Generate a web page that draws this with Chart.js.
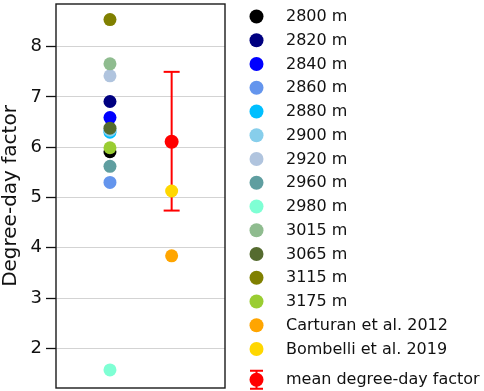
<!DOCTYPE html>
<html>
<head>
<meta charset="utf-8">
<script src="https://cdn.jsdelivr.net/npm/chart.js@4.4.1/dist/chart.umd.min.js"></script>
<style>
  html, body { margin: 0; padding: 0; background: #fff; }
  #wrap { width: 484px; height: 391px; }
</style>
</head>
<body>
<div id="wrap"><canvas id="ddfChart"></canvas></div>
<script>
Chart.defaults.font.family = 'DejaVu Sans';
Chart.defaults.color = '#111';

// values
var stationLabels = ['2800 m', '2820 m', '2840 m', '2860 m', '2880 m', '2900 m', '2920 m', '2960 m', '2980 m', '3015 m', '3065 m', '3115 m', '3175 m'];
var stationColors = ['#000000', '#000080', '#0000ff', '#6495ed', '#00bfff', '#87ceeb', '#b0c4de', '#5f9ea0', '#7fffd4', '#8fbc8f', '#556b2f', '#808000', '#9acd32'];
var stationValues = [5.91, 6.91, 6.59, 5.30, 6.30, 6.34, 7.42, 5.62, 1.57, 7.66, 6.38, 8.54, 5.99];
var studyLabels = ['Carturan et al. 2012', 'Bombelli et al. 2019'];
var studyColors = ['#ffa500', '#ffd700'];
var studyValues = [3.84, 5.13];
var meanLabel = 'mean degree-day factor';
var meanValues = [6.11];
var meanLow = [4.74];
var meanHigh = [7.50];
var yTicks = [2, 3, 4, 5, 6, 7, 8];
var groupPos = [0, 1]; // stations column, literature / mean column

var datasets = [];
function addDs(ds) {
    ds.order = 100 - datasets.length; // later datasets on top, like matplotlib
    datasets.push(ds);
    return datasets.length - 1;
}

var legendRows = [];
stationLabels.forEach(function (lab, i) {
    addDs({
        label: lab,
        data: [{ x: groupPos[0], y: stationValues[i] }],
        backgroundColor: stationColors[i],
        borderWidth: 0,
        pointRadius: 6.5,
    });
    legendRows.push({ text: lab, color: stationColors[i], err: false });
});

// error bar of the mean
addDs({
    label: 'mean range',
    data: [{ x: groupPos[1], y: meanLow[0] }, { x: groupPos[1], y: meanHigh[0] }],
    showLine: true,
    borderColor: '#ff0000',
    borderWidth: 2,
    pointStyle: 'line',
    pointRadius: 8,
    pointBorderColor: '#ff0000',
    pointBorderWidth: 2,
});
addDs({
    label: meanLabel,
    data: [{ x: groupPos[1], y: meanValues[0] }],
    backgroundColor: '#ff0000',
    borderWidth: 0,
    pointRadius: 7,
});

studyLabels.forEach(function (lab, i) {
    addDs({
        label: lab,
        data: [{ x: groupPos[1], y: studyValues[i] }],
        backgroundColor: studyColors[i],
        borderWidth: 0,
        pointRadius: 6.5,
    });
    legendRows.push({ text: lab, color: studyColors[i], err: false });
});
legendRows.push({ text: meanLabel, color: '#ff0000', err: true });

var frame = {
    id: 'frame',
    afterDraw: function (chart) {
        var a = chart.chartArea, ctx = chart.ctx;
        ctx.save();
        ctx.strokeStyle = '#1a1a1a';
        ctx.lineWidth = 1.4;
        ctx.strokeRect(a.left, a.top, a.right - a.left, a.bottom - a.top);
        ctx.restore();
    }
};

var sideLegend = {
    id: 'sideLegend',
    afterDraw: function (chart) {
        var ctx = chart.ctx;
        var mx = 256.5, tx = 286;
        ctx.save();
        ctx.font = '16px "DejaVu Sans"';
        ctx.textBaseline = 'middle';
        legendRows.forEach(function (row, i) {
            var y = 16.5 + i * 23.75 + (row.err ? 7 : 0);
            ctx.fillStyle = row.color;
            ctx.beginPath();
            ctx.arc(mx, y, 7, 0, Math.PI * 2);
            ctx.fill();
            if (row.err) {
                ctx.strokeStyle = row.color;
                ctx.lineWidth = 2;
                ctx.beginPath();
                ctx.moveTo(mx, y - 9); ctx.lineTo(mx, y + 9);
                ctx.moveTo(mx - 6.5, y - 9); ctx.lineTo(mx + 6.5, y - 9);
                ctx.moveTo(mx - 6.5, y + 9); ctx.lineTo(mx + 6.5, y + 9);
                ctx.stroke();
            }
            ctx.fillStyle = '#111';
            ctx.fillText(row.text, tx, y + 0.5);
        });
        ctx.restore();
    }
};

var ctx = document.getElementById('ddfChart');
var myChart = new Chart(ctx, {
    type: 'scatter',
    plugins: [frame, sideLegend],
    data: { datasets: datasets },
    options: {
        responsive: true,
        maintainAspectRatio: false,
        animation: false,
        layout: {
            autoPadding: false,
            padding: { left: 0, right: 259, top: 4, bottom: 3 },
        },
        plugins: {
            legend: { display: false },
            tooltip: { enabled: false },
        },
        scales: {
            x: {
                type: 'linear',
                min: -0.875,
                max: 1.865,
                display: false,
            },
            y: {
                min: 1.21,
                max: 8.85,
                afterFit: function (scale) {
                    scale.width = 56;
                    scale.paddingTop = 0;
                    scale.paddingBottom = 0;
                },
                afterBuildTicks: function (scale) {
                    scale.ticks = yTicks.map(function (v) { return { value: v }; });
                },
                ticks: {
                    font: { size: 18, lineHeight: 0.3 },
                    color: '#111',
                    padding: 4,
                },
                grid: {
                    color: '#d3d3d3',
                    lineWidth: 1,
                    tickColor: '#111',
                    tickLength: 10,
                    tickWidth: 1.3,
                },
                border: { display: false },
                title: {
                    display: true,
                    text: 'Degree-day factor',
                    font: { size: 20, lineHeight: 1.05 },
                    color: '#111',
                    padding: 0,
                },
            },
        },
    },
});
</script>
</body>
</html>
